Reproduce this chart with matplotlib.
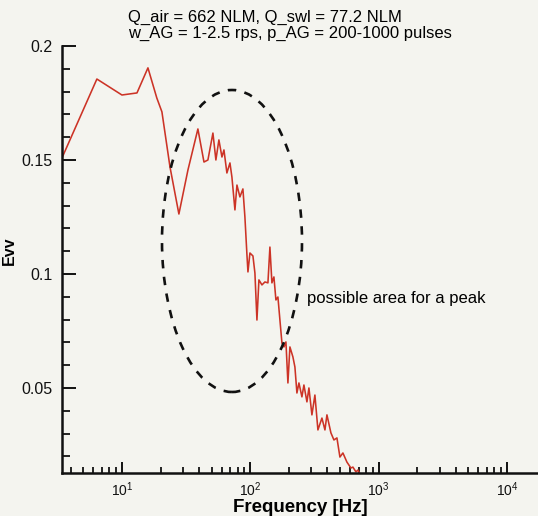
import matplotlib.pyplot as plt
import matplotlib.ticker as mticker
from matplotlib.patches import Ellipse

plt.rcParams['font.family'] = ['Liberation Sans', 'DejaVu Sans']
plt.rcParams['mathtext.fontset'] = 'custom'
plt.rcParams['mathtext.rm'] = 'Liberation Sans'
plt.rcParams['mathtext.it'] = 'Liberation Sans:italic'
plt.rcParams['mathtext.bf'] = 'Liberation Sans:bold'

# spectrum
freq = [3.41, 6.38, 10.0, 13.1, 15.95, 18.7, 20.5, 23.7, 27.8, 32.7,
        39.1, 43.6, 46.8, 51.2, 54.0, 57.0, 60.2, 62.4, 65.8, 69.5,
        72.0, 76.0, 78.8, 83.1, 87.7, 90.9, 94.3, 96.0, 99.5, 105.0,
        108.8, 112.8, 116.9, 123.4, 130.2, 137.4, 142.4, 147.6, 153.0, 158.6,
        164.4, 170.4, 176.7, 183.1, 189.8, 196.7, 203.9, 215.2, 223.0, 231.2,
        239.7, 252.9, 262.1, 276.7, 286.8, 302.6, 319.3, 337.0, 362.2, 382.2,
        396.2, 425.6, 449.2, 474.1, 500.2, 527.8, 567.1, 609.2, 631.5, 666.7,
        691.0, 716.0]
evv = [0.1509, 0.1855, 0.1785, 0.1794, 0.1904, 0.1772, 0.1711, 0.1469, 0.1263, 0.1456,
       0.1636, 0.1491, 0.1500, 0.1618, 0.1500, 0.1588, 0.1513, 0.1544, 0.1443, 0.1487,
       0.1425, 0.1281, 0.1390, 0.1338, 0.1373, 0.1250, 0.1083, 0.1009, 0.1092, 0.1079,
       0.1004, 0.0798, 0.0974, 0.0952, 0.0965, 0.0961, 0.1118, 0.0961, 0.0987, 0.0886,
       0.0899, 0.0798, 0.0697, 0.0680, 0.0702, 0.0522, 0.0680, 0.0636, 0.0592, 0.0478,
       0.0522, 0.0461, 0.0513, 0.0439, 0.0500, 0.0382, 0.0469, 0.0316, 0.0368, 0.0316,
       0.0382, 0.0303, 0.0272, 0.0281, 0.0197, 0.0215, 0.0175, 0.0149, 0.0153, 0.0132,
       0.0140, 0.0123]

yticks = [0.05, 0.1, 0.15, 0.2]
ytick_labels = ['0.05', '0.1', '0.15', '0.2']
title_lines = ['Q_air = 662 NLM, Q_swl = 77.2 NLM',
               'w_AG = 1-2.5 rps, p_AG = 200-1000 pulses']

bg = '#f4f4ef'
fig = plt.figure(figsize=(5.38, 5.16), dpi=100, facecolor=bg)
ax = fig.add_axes([0.1152, 0.0833, 0.8848, 0.8276], facecolor=bg)

ax.plot(freq, evv, color='#cc3326', lw=1.15)

ax.set_xscale('log')
ax.set_xlim(3.41, 17500)
ax.set_ylim(0.0127, 0.2)

ax.yaxis.set_major_locator(mticker.FixedLocator(yticks))
ax.yaxis.set_major_formatter(mticker.FixedFormatter(ytick_labels))
ax.yaxis.set_minor_locator(mticker.MultipleLocator(0.01))
ax.xaxis.set_minor_locator(mticker.LogLocator(base=10, subs=range(2, 10), numticks=20))
ax.xaxis.set_minor_formatter(mticker.NullFormatter())

for s in ['top', 'right']:
    ax.spines[s].set_visible(False)
for s in ['left', 'bottom']:
    ax.spines[s].set_linewidth(1.8)
    ax.spines[s].set_color('#111111')

ax.tick_params(axis='y', which='major', direction='in', length=10, width=1.4,
               labelsize=11.5, pad=6.5, colors='#111111')
ax.tick_params(axis='y', which='minor', direction='in', length=6, width=1.2)
ax.tick_params(axis='x', which='major', direction='in', length=8, width=1.4,
               labelsize=10, pad=5, colors='#111111')
ax.tick_params(axis='x', which='minor', direction='in', length=4.5, width=1.2)

ax.set_xlabel('Frequency [Hz]', fontsize=13.5, fontweight='bold', labelpad=0)
ax.set_ylabel('Evv', fontsize=11.5, fontweight='bold')
ax.yaxis.set_label_coords(-0.094, 0.52)

fig.text(128 / 538, 1 - 17 / 516, title_lines[0], ha='left', va='center', fontsize=12)
fig.text(128 / 538, 1 - 33 / 516, title_lines[1], ha='left', va='center', fontsize=12)

# dashed ellipse marking the region of interest
ell = Ellipse((2.32, 2.75), 1.40, 3.02, transform=fig.dpi_scale_trans,
              fill=False, ec='#111111', lw=1.9, ls=(0, (3.2, 3.2)))
fig.patches.append(ell)

fig.text(3.07 / 5.38, 1 - 2.98 / 5.16, 'possible area for a peak',
         ha='left', va='center', fontsize=12)

fig.savefig('out.png', dpi=100, facecolor=bg)
